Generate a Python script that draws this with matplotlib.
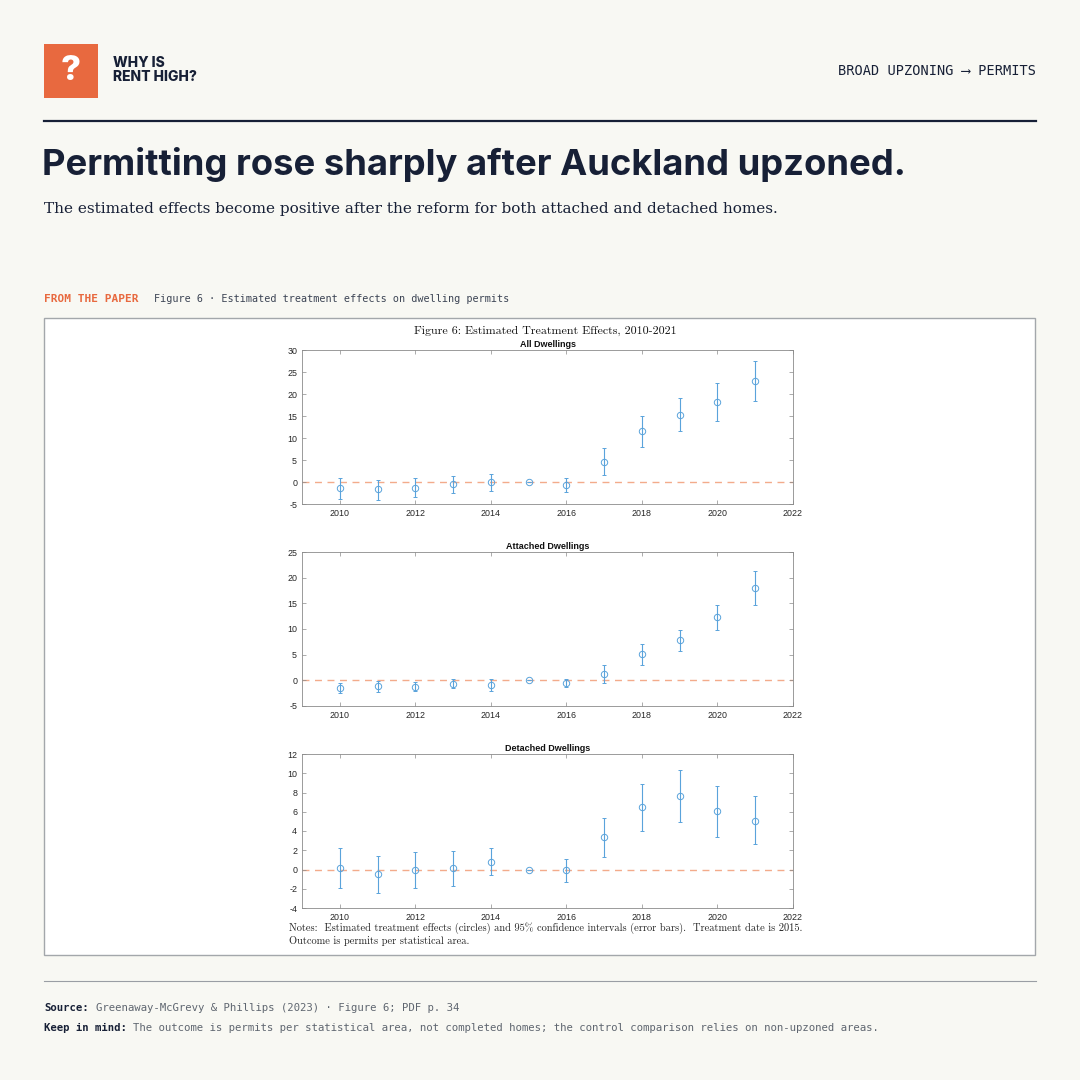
import matplotlib
matplotlib.use("Agg")
import matplotlib.pyplot as plt
from matplotlib.patches import Rectangle
import numpy as np

plt.rcParams["axes.unicode_minus"] = False

# ---------------- data ----------------
years = [2010, 2011, 2012, 2013, 2014, 2015, 2016, 2017, 2018, 2019, 2020, 2021]

all_est = [-1.36, -1.66, -1.28, -0.53, 0.0, 0.0, -0.60, 4.53, 11.49, 15.34, 18.20, 22.98]
all_hi  = [0.98, 0.53, 0.83, 1.44, 1.89, 0.0, 0.98, 7.63, 14.97, 19.05, 22.50, 27.50]
all_lo  = [-3.78, -4.00, -3.48, -2.50, -1.97, 0.0, -2.20, 1.51, 8.01, 11.64, 13.90, 18.44]

att_est = [-1.55, -1.10, -1.22, -0.70, -0.90, 0.0, -0.44, 1.25, 5.15, 7.88, 12.30, 18.04]
att_hi  = [-0.57, -0.12, -0.38, 0.20, 0.34, 0.0, 0.27, 2.94, 7.10, 9.90, 14.70, 21.36]
att_lo  = [-2.52, -2.20, -2.13, -1.55, -2.07, 0.0, -1.29, -0.44, 3.07, 5.80, 9.77, 14.60]

det_est = [0.20, -0.49, -0.04, 0.17, 0.83, 0.0, -0.08, 3.33, 6.45, 7.60, 6.03, 5.06]
det_hi  = [2.25, 1.42, 1.80, 1.94, 2.25, 0.0, 1.14, 5.38, 8.92, 10.30, 8.70, 7.67]
det_lo  = [-1.88, -2.48, -1.88, -1.67, -0.56, 0.0, -1.33, 1.28, 3.95, 4.89, 3.40, 2.60]

panel_titles = ["All Dwellings", "Attached Dwellings", "Detached Dwellings"]
y_limits = [(-5, 30), (-5, 25), (-4, 12)]
y_steps = [5, 5, 2]
x_ticks = [2010, 2012, 2014, 2016, 2018, 2020, 2022]

# ---------------- style ----------------
BG = "#f8f8f3"
NAVY = "#172036"
ORANGE = "#e8693f"
GRAY = "#5f6670"
BLUE = "#5aa3db"
DASH = "#f3ab8b"

W = H = 1080
fig = plt.figure(figsize=(10.8, 10.8), dpi=100)
fig.patch.set_facecolor(BG)

def fx(x):
    return x / W

def fy(y):
    return 1 - y / H

# header logo
fig.patches.append(Rectangle((fx(44), fy(98)), fx(54), 54 / H, transform=fig.transFigure,
                             facecolor=ORANGE, edgecolor="none", zorder=-5))
fig.text(fx(71), fy(71), "?", color="white", fontsize=25, fontweight="heavy",
         family="Inter", ha="center", va="center")
fig.text(fx(113), fy(63), "WHY IS", color=NAVY, fontsize=10, fontweight="heavy",
         family="Inter", ha="left", va="center")
fig.text(fx(113), fy(77), "RENT HIGH?", color=NAVY, fontsize=10, fontweight="heavy",
         family="Inter", ha="left", va="center")
fig.text(fx(1036), fy(71), "BROAD UPZONING \u27f6 PERMITS", color=NAVY, fontsize=9.8,
         family=["DejaVu Sans Mono", "DejaVu Sans"], ha="right", va="center")

# rule
fig.add_artist(plt.Line2D([fx(44), fx(1036)], [fy(121), fy(121)], color=NAVY, lw=1.6,
                          transform=fig.transFigure))

# title and subtitle
fig.text(fx(42), fy(164), "Permitting rose sharply after Auckland upzoned.", color=NAVY,
         fontsize=26.2, fontweight="bold", family="Inter", ha="left", va="center")
fig.text(fx(44), fy(209), "The estimated effects become positive after the reform for both attached and detached homes.",
         color=NAVY, fontsize=11, family="DejaVu Serif", ha="left", va="center")

# from the paper label
fig.text(fx(44), fy(299), "FROM THE PAPER", color=ORANGE, fontsize=8.0, fontweight="bold",
         family="DejaVu Sans Mono", ha="left", va="center")
fig.text(fx(154), fy(299), "Figure 6 \u00b7 Estimated treatment effects on dwelling permits", color="#3c4454",
         fontsize=7.3, family="DejaVu Sans Mono", ha="left", va="center")

# paper panel
fig.patches.append(Rectangle((fx(44), fy(955)), fx(1035 - 44), (955 - 318) / H, transform=fig.transFigure,
                             facecolor="white", edgecolor="#a3a7ab", lw=1.0, zorder=-5))

fig.text(fx(545), fy(331), "Figure 6: Estimated Treatment Effects, 2010-2021", color="#111111",
         fontsize=8.6, family="cmr10", ha="center", va="center")

ax_tops = [350, 552, 754]
ax_h = 154
series = [(all_est, all_lo, all_hi), (att_est, att_lo, att_hi), (det_est, det_lo, det_hi)]

for i in range(3):
    top = ax_tops[i]
    ax = fig.add_axes([fx(302), fy(top + ax_h), fx(793 - 302), ax_h / H])
    ax.set_facecolor("white")
    est, lo, hi = series[i]
    est = np.array(est)
    yerr = np.vstack([est - np.array(lo), np.array(hi) - est])
    ax.axhline(0, color=DASH, lw=1.0, ls=(0, (5, 4)), zorder=1)
    ax.errorbar(years, est, yerr=yerr, fmt="o", ms=4.6, mfc="none", mec=BLUE, mew=0.7,
                ecolor=BLUE, elinewidth=0.8, capsize=1.6, capthick=0.8, zorder=3)
    ax.set_xlim(2009, 2022)
    ax.set_ylim(*y_limits[i])
    ax.set_xticks(x_ticks)
    ax.set_yticks(np.arange(y_limits[i][0], y_limits[i][1] + 0.01, y_steps[i]))
    ax.tick_params(direction="in", length=3, width=0.5, colors="#8a8a8a", labelcolor="#262626",
                   labelsize=6.4, top=True, right=True, pad=3.5)
    for lab in ax.get_xticklabels() + ax.get_yticklabels():
        lab.set_family("Liberation Sans")
    for s in ax.spines.values():
        s.set_color("#8a8a8a")
        s.set_linewidth(0.6)
    ax.set_title(panel_titles[i], fontsize=6.5, fontweight="bold", family="Liberation Sans",
                 color="#111111", pad=2.2)

fig.text(fx(289), fy(928), "Notes:  Estimated treatment effects (circles) and 95% confidence intervals (error bars).  Treatment date is 2015.",
         color="#222222", fontsize=7.5, family="cmr10", ha="left", va="center")
fig.text(fx(289), fy(941), "Outcome is permits per statistical area.",
         color="#222222", fontsize=7.5, family="cmr10", ha="left", va="center")

# bottom rule
fig.add_artist(plt.Line2D([fx(44), fx(1036)], [fy(981), fy(981)], color="#9a9ea4", lw=0.8,
                          transform=fig.transFigure))

# footer
fig.text(fx(44), fy(1008), "Source:", color=NAVY, fontsize=7.65, fontweight="bold",
         family="DejaVu Sans Mono", ha="left", va="center")
fig.text(fx(96), fy(1008), "Greenaway-McGrevy & Phillips (2023) \u00b7 Figure 6; PDF p. 34", color=GRAY,
         fontsize=7.65, family="DejaVu Sans Mono", ha="left", va="center")
fig.text(fx(44), fy(1028), "Keep in mind:", color=NAVY, fontsize=7.65, fontweight="bold",
         family="DejaVu Sans Mono", ha="left", va="center")
fig.text(fx(133), fy(1028), "The outcome is permits per statistical area, not completed homes; the control comparison relies on non-upzoned areas.",
         color=GRAY, fontsize=7.65, family="DejaVu Sans Mono", ha="left", va="center")

fig.savefig("out.png", dpi=100, facecolor=BG)
